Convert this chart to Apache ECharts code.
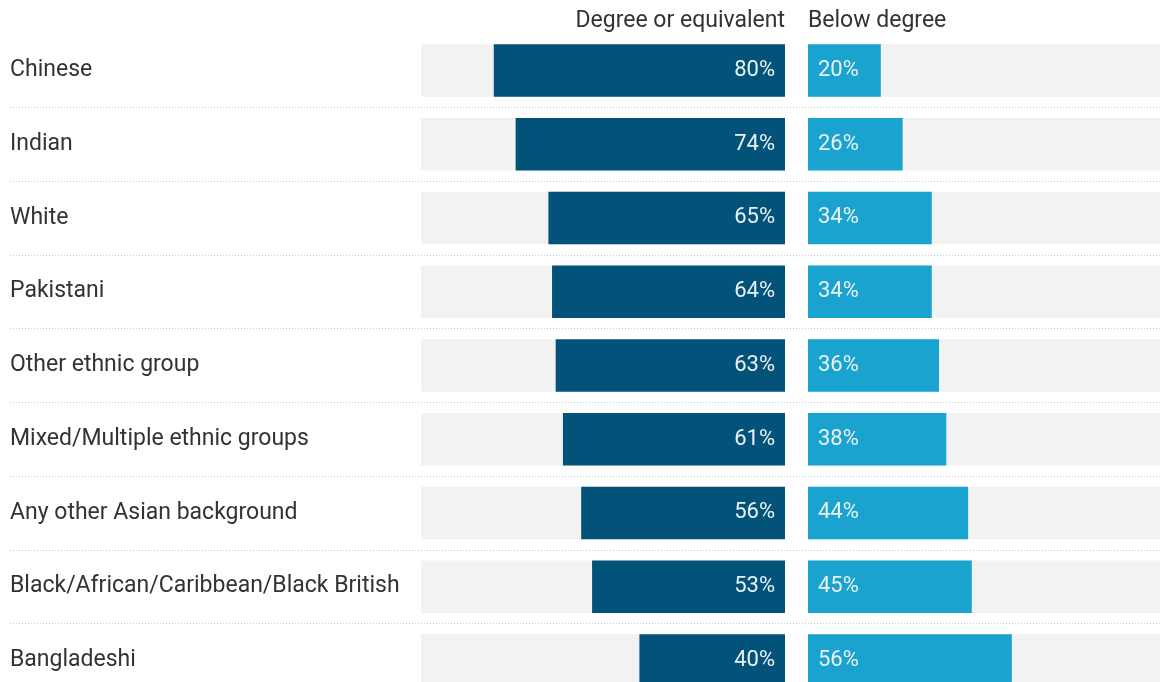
<!DOCTYPE html>
<html>
<head>
<meta charset="utf-8">
<script src="https://cdn.jsdelivr.net/npm/echarts@6/dist/echarts.min.js"></script>
<style>
  html, body { margin: 0; padding: 0; background: #ffffff; overflow: hidden; }
  /* the right panel and the last row run past the edges of the viewport */
  #chart { width: 1180px; height: 698px; }
</style>
</head>
<body>
<div id="chart"></div>
<script>
// Ethnic groups, top to bottom
const categories = [
  'Chinese',
  'Indian',
  'White',
  'Pakistani',
  'Other ethnic group',
  'Mixed/Multiple ethnic groups',
  'Any other Asian background',
  'Black/African/Caribbean/Black British',
  'Bangladeshi'
];
// Share with a degree or equivalent (%)
const degree = [80, 74, 65, 64, 63, 61, 56, 53, 40];
// Share below degree level (%)
const belowDegree = [20, 26, 34, 34, 36, 38, 44, 45, 56];
// Column headings
const headings = ['Degree or equivalent', 'Below degree'];

const full = categories.map(() => 100);

const FONT = 'Roboto, "Noto Sans", sans-serif';
const DARK = '#03527a';
const LIGHT = '#1ba3cf';
const TRACK = '#f2f2f2';
const LABEL_COLOR = '#e9f1f5';
const CHART_WIDTH = 1180;

const chart = echarts.init(document.getElementById('chart'), null, { renderer: 'canvas' });

// Rows are 73.75px tall
const rowTop = 33.6;
const rowsHeight = 73.75 * categories.length;

const catAxis = (gridIndex, extra) => Object.assign({
  type: 'category',
  gridIndex,
  data: categories,
  inverse: true,
  axisLine: { show: false },
  axisTick: { show: false },
  axisLabel: { show: false },
  splitLine: { show: false }
}, extra || {});

const valAxis = (gridIndex, inverse) => ({
  type: 'value',
  gridIndex,
  min: 0,
  max: 100,
  inverse,
  show: false
});

const barBase = {
  type: 'bar',
  barCategoryGap: '29%',
  barGap: '-100%',
  animation: false,
  silent: true
};

chart.setOption({
  animation: false,
  grid: [
    // full-width grid carrying the row labels and dotted separators
    { left: 10, width: 1150, top: rowTop, height: rowsHeight },
    // degree panel (bars grow leftwards)
    { left: 421, width: 364, top: rowTop, height: rowsHeight },
    // below-degree panel
    { left: 808, width: 364, top: rowTop, height: rowsHeight }
  ],
  xAxis: [
    valAxis(0, false),
    valAxis(1, true),
    valAxis(2, false)
  ],
  yAxis: [
    catAxis(0, {
      axisLabel: {
        show: true,
        inside: true,
        margin: 0,
        align: 'left',
        verticalAlign: 'middle',
        lineHeight: 28,
        padding: [4, 0, 0, 0],
        color: '#333333',
        fontSize: 23,
        fontFamily: FONT
      },
      splitLine: {
        show: true,
        interval: (i) => i > 0,
        lineStyle: { color: '#c8c8c8', type: [1, 2], width: 1 }
      }
    }),
    catAxis(1),
    catAxis(2)
  ],
  series: [
    Object.assign({}, barBase, {
      xAxisIndex: 1, yAxisIndex: 1, z: 1,
      data: full,
      itemStyle: { color: TRACK }
    }),
    Object.assign({}, barBase, {
      xAxisIndex: 1, yAxisIndex: 1, z: 2,
      name: headings[0],
      data: degree,
      itemStyle: { color: DARK },
      label: {
        show: true,
        position: 'insideRight',
        distance: 10,
        formatter: '{c}%',
        color: LABEL_COLOR,
        fontSize: 22,
        fontFamily: FONT
      }
    }),
    Object.assign({}, barBase, {
      xAxisIndex: 2, yAxisIndex: 2, z: 1,
      data: full,
      itemStyle: { color: TRACK }
    }),
    Object.assign({}, barBase, {
      xAxisIndex: 2, yAxisIndex: 2, z: 2,
      name: headings[1],
      data: belowDegree,
      itemStyle: { color: LIGHT },
      label: {
        show: true,
        position: 'insideLeft',
        distance: 10,
        formatter: '{c}%',
        color: LABEL_COLOR,
        fontSize: 22,
        fontFamily: FONT
      }
    })
  ],
  graphic: [
    {
      type: 'text',
      right: CHART_WIDTH - 785,
      top: 10,
      style: { text: headings[0], fill: '#333333', fontSize: 23, fontFamily: FONT }
    },
    {
      type: 'text',
      left: 808,
      top: 10,
      style: { text: headings[1], fill: '#333333', fontSize: 23, fontFamily: FONT }
    }
  ]
});
</script>
</body>
</html>
